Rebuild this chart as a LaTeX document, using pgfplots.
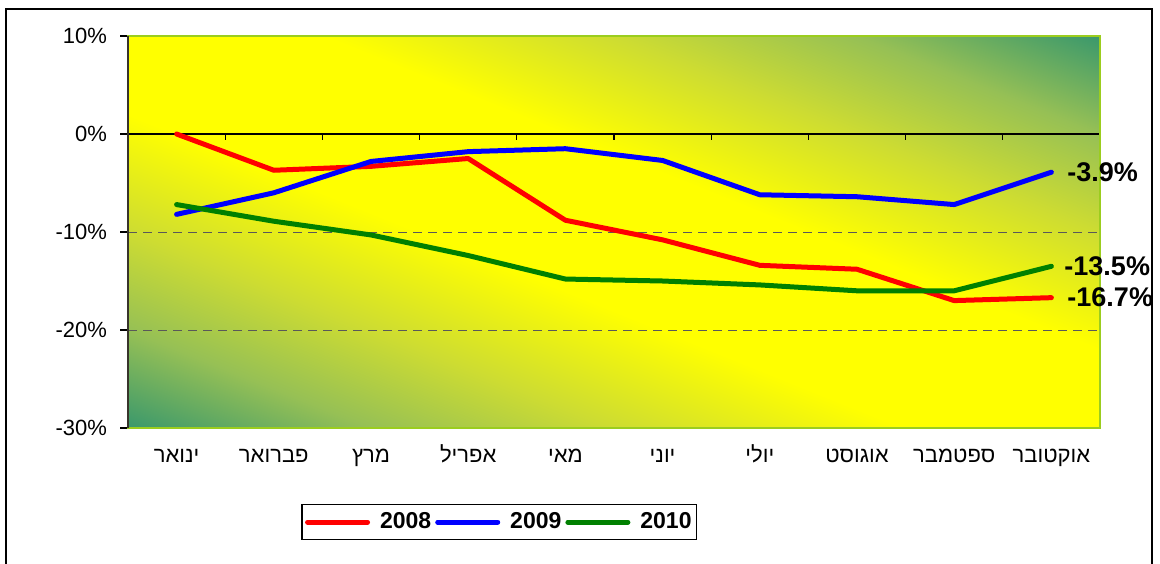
\documentclass[border=0pt]{standalone}
\usepackage{fontspec}
\setmainfont{Liberation Sans}
\newfontfamily\heb[Script=Hebrew]{Liberation Sans}
\TeXXeTstate=1
\usepackage{pgfplots}
\pgfplotsset{compat=1.18}

\definecolor{gcorner}{RGB}{58,152,108}
\definecolor{g75}{RGB}{150,192,85}
\definecolor{g50}{RGB}{205,220,50}
\definecolor{ylw}{RGB}{255,255,0}
\definecolor{plotedge}{RGB}{155,205,30}
\definecolor{l08}{RGB}{255,0,0}
\definecolor{l09}{RGB}{0,0,255}
\definecolor{l10}{RGB}{0,128,0}

% green corners, yellow band along the falling diagonal (s=-1..1 -> 25bp..75bp)
\pgfdeclarehorizontalshading{excelgrad}{100bp}{%
  color(0bp)=(gcorner); color(25bp)=(gcorner);
  color(31.25bp)=(g75); color(37.5bp)=(g50);
  color(45bp)=(ylw); color(55bp)=(ylw);
  color(62.5bp)=(g50); color(68.75bp)=(g75);
  color(75bp)=(gcorner); color(100bp)=(gcorner)}

\newcommand{\heblab}[1]{{\heb\beginR #1\endR}}

\begin{document}
\begin{tikzpicture}
\useasboundingbox (0,0) rectangle (580pt,281.5pt);
\draw[line width=0.75pt] (3pt,-2pt) -- (3pt,277pt) -- (576pt,277pt) -- (576pt,-2pt);
% plot area fill
\begin{scope}
  \clip (64pt,67.5pt) rectangle (550pt,263.5pt);
  \begin{scope}[transform canvas={shift={(307pt,165.5pt)}, rotate=68}]
    \shade[shading=excelgrad] (-181.8pt,-270pt) rectangle (181.8pt,270pt);
  \end{scope}
\end{scope}
\begin{axis}[
  at={(64pt,67.5pt)}, anchor=south west,
  scale only axis, width=486pt, height=196pt,
  xmin=-0.5, xmax=9.5, ymin=-30, ymax=10,
  xtick={0,...,9},
  xticklabels={\heblab{ינואר},\heblab{פברואר},\heblab{מרץ},\heblab{אפריל},\heblab{מאי},
    \heblab{יוני},\heblab{יולי},\heblab{אוגוסט},\heblab{ספטמבר},\heblab{אוקטובר}},
  ytick={-30,-20,-10,0,10},
  yticklabels={-30\%,-20\%,-10\%,0\%,10\%},
  ytick pos=left,
  tick align=outside,
  x tick style={draw=none},
  y tick style={black, line width=0.6pt},
  major tick length=4pt,
  ticklabel style={font=\fontsize{11}{13}\selectfont, text=black},
  yticklabel style={xshift=-3pt},
  xticklabel style={text height=8pt, text depth=1pt, yshift=-1.5pt},
  axis line style={draw=none},
  clip=false,
  legend columns=3,
  legend style={at={(0.382,-0.24)}, anchor=center, draw=black, line width=0.6pt,
    font=\bfseries\fontsize{11.5}{13}\selectfont, inner xsep=1.5pt, inner ysep=3pt,
    nodes={inner sep=1pt},
    /tikz/every even column/.style={column sep=1pt},
    /tikz/every odd column/.style={column sep=4pt}},
  legend image code/.code={\draw[#1, line width=2.5pt, line cap=round] (0pt,0pt) -- (30pt,0pt);},
  every axis plot/.append style={line width=2.5pt, line cap=round, line join=round},
]
% grid and zero line
\draw[black!65, line width=0.5pt, dash pattern=on 4.5pt off 3pt] (axis cs:-0.5,-10) -- (axis cs:9.5,-10);
\draw[black!65, line width=0.5pt, dash pattern=on 4.5pt off 3pt] (axis cs:-0.5,-20) -- (axis cs:9.5,-20);
\draw[black, line width=0.6pt] (axis cs:-0.5,0) -- (axis cs:9.5,0);
\pgfplotsinvokeforeach{0,...,9}{\draw[black, line width=0.6pt] (axis cs:#1+0.5,0) -- ++(0pt,-3pt);}

% plot area border
\draw[plotedge, line width=1pt] (rel axis cs:0,0) rectangle (rel axis cs:1,1);
\draw[black!80!olive, line width=1pt] (rel axis cs:0,0) -- (rel axis cs:0,1);

\addplot[color=l08] coordinates {
  (0,0) (1,-3.7) (2,-3.3) (3,-2.5) (4,-8.8) (5,-10.8) (6,-13.4) (7,-13.8) (8,-17.0) (9,-16.7)
};
\addlegendentry{2008}
\addplot[color=l09] coordinates {
  (0,-8.2) (1,-6.0) (2,-2.8) (3,-1.8) (4,-1.5) (5,-2.7) (6,-6.2) (7,-6.4) (8,-7.2) (9,-3.9)
};
\addlegendentry{2009}
\addplot[color=l10] coordinates {
  (0,-7.2) (1,-8.9) (2,-10.3) (3,-12.4) (4,-14.8) (5,-15.0) (6,-15.4) (7,-16.0) (8,-16.0) (9,-13.5)
};
\addlegendentry{2010}

% end labels
\node[anchor=west, font=\bfseries\fontsize{13.5}{15}\selectfont, xshift=4.5pt] at (axis cs:9,-3.9) {-3.9\%};
\node[anchor=west, font=\bfseries\fontsize{13.5}{15}\selectfont, xshift=3pt] at (axis cs:9,-13.5) {-13.5\%};
\node[anchor=west, font=\bfseries\fontsize{13.5}{15}\selectfont, xshift=4.5pt] at (axis cs:9,-16.7) {-16.7\%};
\end{axis}
\end{tikzpicture}
\end{document}
